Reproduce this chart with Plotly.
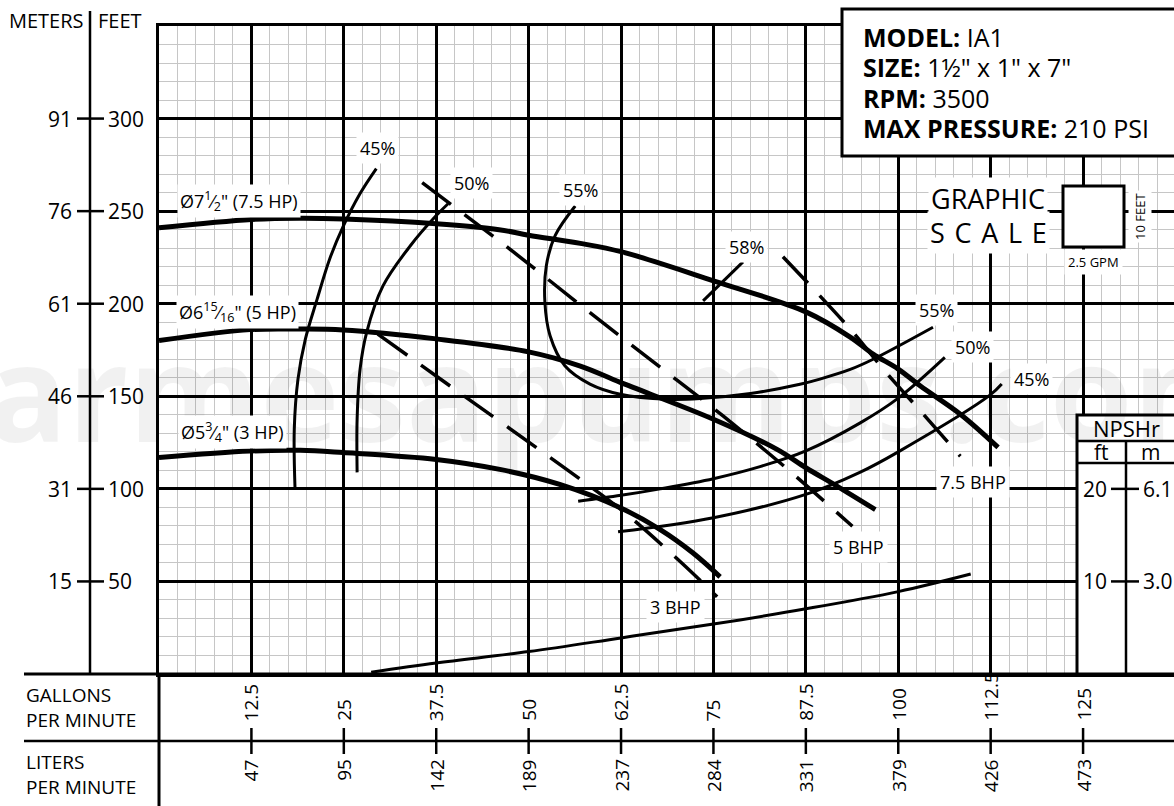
import plotly.graph_objects as go

# ---------------- data (GPM vs head in feet) ----------------
head_75_gpm = [0, 12.5, 19, 25, 37.5, 46, 50, 57, 62.5, 75, 87.5, 93.5, 96.6, 100, 103, 108.4, 113.5]
head_75_ft = [241, 245.5, 246.2, 245.8, 243.2, 240, 237, 232.6, 228.1, 212.4, 195.6, 182, 172.8, 164.7, 155.5, 140.3, 122.4]

head_5_gpm = [0, 12.3, 19.1, 24.9, 37.5, 50, 57, 62.4, 75, 83.6, 87.5, 91.7, 96.9]
head_5_ft = [180.1, 186, 186.3, 185.8, 181, 174, 166.3, 157.5, 137.6, 121.3, 111.4, 101.5, 88.8]

head_3_gpm = [0, 12.3, 19.1, 24.9, 37.5, 46.1, 54.2, 62.4, 67.8, 72.2, 75.9]
head_3_ft = [116.9, 120.4, 120.8, 119.6, 115.9, 110.5, 102.4, 89.8, 78, 65.5, 52.5]

eff45_left_gpm = [29.4, 27.2, 24.9, 23.1, 21.4, 19.8, 18.8, 18.3, 18.4]
eff45_left_ft = [273, 259.5, 241.6, 224.3, 202.6, 180.9, 159.3, 132.2, 100.2]

eff50_left_gpm = [39.1, 37.5, 34, 30.3, 28.1, 27.2, 26.8, 26.8]
eff50_left_ft = [254, 247.6, 231.3, 209.6, 184.7, 164.7, 137.6, 108.9]

eff55_gpm = [56.3, 53.6, 52.4, 52.2, 52.9, 54.9, 58.3, 62.4, 68.7, 73.2, 80, 86.7, 89.4, 93.5, 96.6, 104.7]
eff55_ft = [252.8, 236.9, 220.6, 200.8, 182.7, 166.5, 156.6, 151.1, 148.4, 148.8, 151.5, 156.5, 159.3, 164.5, 170, 187.3]

eff50_right_gpm = [56.7, 62.5, 67.8, 75, 81.3, 87.5, 94.8, 100, 106.3]
eff50_right_ft = [93.3, 96.5, 100, 105.5, 112, 120.5, 135.5, 149, 171]

eff45_right_gpm = [62.1, 75, 87.5, 94.8, 100, 112.4, 114]
eff45_right_ft = [76.8, 84.4, 97, 108.9, 120, 150.6, 156.6]

eff58_gpm = [73.6, 79.0]
eff58_ft = [201.5, 222.6]

bhp5_gpm = [35.6, 47.9, 58, 70.2, 76.3, 84, 93.8]
bhp5_ft = [265.4, 228.1, 196.1, 158.3, 139.4, 114.1, 79.8]

bhp3_gpm = [29.6, 39.4, 54.2, 62.8, 70.2, 75.5]
bhp3_ft = [183.6, 155.5, 113.2, 87.8, 61.8, 41.7]

bhp75_gpm = [84.4, 93.5, 98.2, 103.4, 108.4]
bhp75_ft = [225.4, 186.3, 163.6, 140.3, 117.6]

npsh_gpm = [28.7, 37.5, 50, 62.5, 75, 87.5, 100, 109.8]
npsh_ft = [0.2, 1.19, 2.42, 3.9, 5.4, 7.04, 8.9, 10.8]

# axis tick values / labels
gpm_ticks = [12.5, 25, 37.5, 50, 62.5, 75, 87.5, 100, 112.5, 125]
gpm_labels = ["12.5", "25", "37.5", "50", "62.5", "75", "87.5", "100", "112.5", "125"]
lpm_labels = ["47", "95", "142", "189", "237", "284", "331", "379", "426", "473"]
feet_ticks = [50, 100, 150, 200, 250, 300]
feet_labels = ["50", "100", "150", "200", "250", "300"]
meter_labels = ["15", "31", "46", "61", "76", "91"]
npsh_ticks = [10, 20]
npsh_ft_labels = ["10", "20"]
npsh_m_labels = ["3.0", "6.1"]

# curve labels: (text, gpm, ft)
impeller_labels = [
    ("Ø7<sup>1</sup>⁄<sub>2</sub>\" (7.5 HP)", 10.8, 255.5),
    ("Ø6<sup>15</sup>⁄<sub>16</sub>\" (5 HP)", 10.6, 195.5),
    ("Ø5<sup>3</sup>⁄<sub>4</sub>\" (3 HP)", 9.9, 130.7),
]
eff_labels = [
    ("45%", 29.6, 284.1), ("50%", 42.3, 265.2), ("55%", 57.0, 261.4), ("58%", 79.5, 230.6),
    ("55%", 105.2, 196.6), ("50%", 110.1, 176.6), ("45%", 118.0, 159.3),
]
bhp_labels = [("7.5 BHP", 110.1, 103.7), ("5 BHP", 94.6, 68.6), ("3 BHP", 69.8, 36.2)]

info_lines = [("MODEL:", "IA1"), ("SIZE:", "1½\" x 1\" x 7\""), ("RPM:", "3500"), ("MAX PRESSURE:", "210 PSI")]
watermark = "barmesapumps.com"

# ---------------- figure ----------------
W, H = 1174, 806
FONT = "Open Sans"
X_MAX = 137.3
Y_MAX = 350


def px(x):
    return x / W


def py(y):
    return 1 - y / H


fig = go.Figure()


def curve(xs, ys, width, dash=None, yaxis="y"):
    fig.add_trace(go.Scatter(
        x=xs, y=ys, mode="lines", yaxis=yaxis, hoverinfo="skip",
        line=dict(color="black", width=width, shape="spline", smoothing=1.0, dash=dash),
    ))


curve(head_75_gpm, head_75_ft, 5)
curve(head_5_gpm, head_5_ft, 5)
curve(head_3_gpm, head_3_ft, 5)
for xs, ys in [(eff45_left_gpm, eff45_left_ft), (eff50_left_gpm, eff50_left_ft), (eff55_gpm, eff55_ft),
               (eff50_right_gpm, eff50_right_ft), (eff45_right_gpm, eff45_right_ft), (eff58_gpm, eff58_ft)]:
    curve(xs, ys, 3)
for xs, ys in [(bhp5_gpm, bhp5_ft), (bhp3_gpm, bhp3_ft), (bhp75_gpm, bhp75_ft)]:
    curve(xs, ys, 3.5, dash="36px,17px")
curve(npsh_gpm, npsh_ft, 3, yaxis="y2")

shapes = []
ann = []


def line(x0, y0, x1, y1, w=2.5, xref="paper", yref="paper"):
    shapes.append(dict(type="line", x0=x0, y0=y0, x1=x1, y1=y1, xref=xref, yref=yref,
                       line=dict(color="black", width=w)))


def text(t, x, y, size, xref="paper", yref="paper", xanchor="center", yanchor="middle", bg=None,
         angle=0, pad=1, align="left"):
    d = dict(text=t, x=x, y=y, xref=xref, yref=yref, xanchor=xanchor, yanchor=yanchor,
             showarrow=False, textangle=angle, borderpad=pad, align=align,
             font=dict(family=FONT, size=size, color="black"))
    if bg:
        d["bgcolor"] = bg
    ann.append(d)


# watermark (faint)
text(f"<b>{watermark}</b>", px(-100), py(390), 134, xanchor="left")
ann[-1]["font"]["color"] = "rgba(0,0,0,0.055)"

# frame lines outside plot
line(px(90), py(11), px(90), py(674), 2.5)
line(px(24), py(674), px(1174), py(674), 3)
line(px(24), py(741), px(1174), py(741), 2.5)
line(px(159), py(674), px(159), py(806), 3)

# left header
text("METERS", px(7), py(20), 20, xanchor="left")
text("FEET", px(96), py(20), 20, xanchor="left")
for v, fl, ml in zip(feet_ticks, feet_labels, meter_labels):
    line(px(77), v, px(104), v, 2.5, yref="y")
    text(ml, px(74), v, 21, yref="y", xanchor="right")
    text(fl, px(106), v, 21, yref="y", xanchor="left")

# bottom rows
text("GALLONS<br>PER MINUTE", px(24), py(707), 19, xanchor="left")
text("LITERS<br>PER MINUTE", px(24), py(774), 19, xanchor="left")
for v, gl, ll in zip(gpm_ticks, gpm_labels, lpm_labels):
    line(v, py(728), v, py(754), 2.5, xref="x")
    text(gl, v, py(723), 19, xref="x", yanchor="bottom", angle=-90)
    text(ll, v, py(757), 19, xref="x", yanchor="top", angle=-90)

# curve labels
for t, x, y in impeller_labels:
    text(t, x, y, 18, xref="x", yref="y", bg="white", pad=2)
for t, x, y in eff_labels:
    text(t, x, y, 18, xref="x", yref="y", bg="white", pad=3)
for t, x, y in bhp_labels:
    text(t, x, y, 18, xref="x", yref="y", bg="white", pad=3)

# info box
shapes.append(dict(type="rect", xref="paper", yref="paper", x0=px(842), y0=py(9), x1=px(1190), y1=py(156),
                   line=dict(color="black", width=3), fillcolor="white"))
for i, (k, v) in enumerate(info_lines):
    text(f"<b>{k}</b> {v}", px(861), py(37 + i * 30.5), 25, xanchor="left")

# graphic scale
shapes.append(dict(type="rect", xref="paper", yref="paper", x0=px(1063), y0=py(186), x1=px(1124), y1=py(247),
                   line=dict(color="black", width=3), fillcolor="white"))
text("GRAPHIC", px(988), py(198), 27, bg="white", pad=2)
text("S\u200a C\u200a A\u200a L\u200a E", px(988), py(232), 27, bg="white", pad=2)
text("10 FEET", px(1140), py(217), 13, angle=-90, bg="white", pad=2)
text("2.5 GPM", px(1093), py(262), 13, bg="white", pad=3)

# NPSHr box
shapes.append(dict(type="rect", xref="paper", yref="paper", x0=px(1077), y0=py(415), x1=px(1190), y1=py(674),
                   line=dict(color="black", width=3), fillcolor="white"))
line(px(1077), py(441), px(1174), py(441), 2.5)
line(px(1077), py(463), px(1174), py(463), 2.5)
line(px(1126), py(441), px(1126), py(674), 2.5)
text("NPSHr", px(1126), py(428), 22)
text("ft", px(1101), py(452), 21)
text("m", px(1150), py(452), 21)
for v, fl, ml in zip(npsh_ticks, npsh_ft_labels, npsh_m_labels):
    line(px(1111), v, px(1139), v, 2.5, yref="y2")
    text(fl, px(1109), v, 21, yref="y2", xanchor="right")
    text(ml, px(1141), v, 21, yref="y2", xanchor="left")

fig.update_layout(
    width=W, height=H, margin=dict(l=0, r=0, t=0, b=0, pad=0),
    paper_bgcolor="white", plot_bgcolor="white", showlegend=False,
    font=dict(family=FONT, color="black"),
    xaxis=dict(domain=[159 / W, 1], range=[0, X_MAX], tick0=0, dtick=12.5, showgrid=True,
               gridcolor="black", gridwidth=2.6,
               minor=dict(tick0=0, dtick=2.5, showgrid=True, gridcolor="#c6c6c6", gridwidth=1.2),
               showticklabels=False, ticks="", zeroline=False, showline=True, mirror=True,
               linecolor="black", linewidth=3, fixedrange=True),
    yaxis=dict(domain=[1 - 674 / H, 1 - 26 / H], range=[0, Y_MAX], tick0=0, dtick=50, showgrid=True,
               gridcolor="black", gridwidth=2.6,
               minor=dict(tick0=0, dtick=10, showgrid=True, gridcolor="#c6c6c6", gridwidth=1.2),
               showticklabels=False, ticks="", zeroline=False, showline=True, mirror=False,
               linecolor="black", linewidth=3, fixedrange=True),
    yaxis2=dict(overlaying="y", range=[0, Y_MAX / 5], visible=False, fixedrange=True),
    shapes=shapes, annotations=ann,
)

fig.write_html("out.html", config={"displayModeBar": False},
               post_script="document.body.style.margin='0px';document.body.style.overflow='hidden';")
